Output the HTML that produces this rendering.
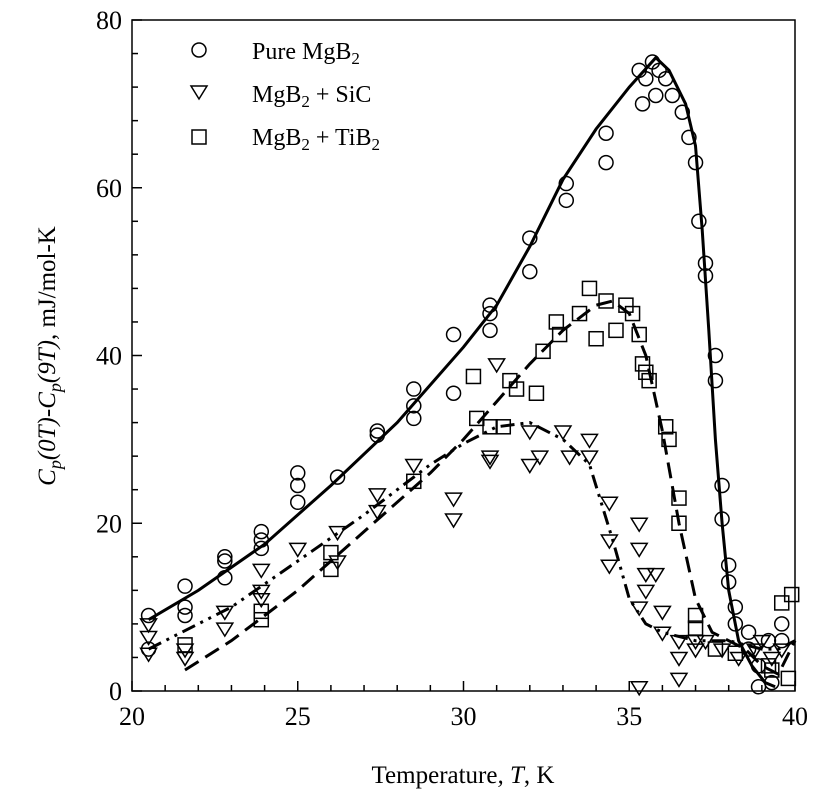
<!DOCTYPE html>
<html><head><meta charset="utf-8"><style>
html,body{margin:0;padding:0;background:#fff;}
svg{display:block;font-family:"Liberation Serif",serif;}
</style></head><body>
<svg id="chart" width="820" height="807" viewBox="0 0 820 807" xmlns="http://www.w3.org/2000/svg">
<g id="axes"></g>
<g id="marks"></g>
<text x="463" y="783" font-size="25" text-anchor="middle">Temperature<tspan font-style="italic">, T</tspan>, K</text>
<text transform="translate(55,356) rotate(-90)" font-size="25" text-anchor="middle"><tspan font-style="italic">C</tspan><tspan font-style="italic" font-size="18" dy="6">p</tspan><tspan font-style="italic" dy="-6">(0T)</tspan>-<tspan font-style="italic">C</tspan><tspan font-style="italic" font-size="18" dy="6">p</tspan><tspan font-style="italic" dy="-6">(9T)</tspan>, mJ/mol-K</text>
<g font-size="24">
<g><circle cx="199" cy="50" r="7" fill="none" stroke="#000" stroke-width="1.5"/><text x="252" y="59">Pure MgB<tspan font-size="17" dy="5">2</tspan></text></g>
<g><path d="M191,86 L207,86 L199,99 Z" fill="none" stroke="#000" stroke-width="1.5"/><text x="252" y="102">MgB<tspan font-size="17" dy="5">2</tspan><tspan dy="-5"> + SiC</tspan></text></g>
<g><rect x="192" y="130" width="14" height="14" fill="none" stroke="#000" stroke-width="1.5"/><text x="252" y="145">MgB<tspan font-size="17" dy="5">2</tspan><tspan dy="-5"> + TiB</tspan><tspan font-size="17" dy="5">2</tspan></text></g>
</g>
</svg>
<script>
const xTicks=[20,25,30,35,40];
const yTicks=[0,20,40,60,80];
const pureT=[20.5,20.5,21.6,21.6,21.6,22.8,22.8,22.8,23.9,23.9,23.9,25,25,25,26.2,27.4,27.4,28.5,28.5,28.5,29.7,29.7,30.8,30.8,30.8,32,32,33.1,33.1,34.3,34.3,35.3,35.4,35.5,35.7,35.8,35.9,36.1,36.3,36.6,36.8,37,37.1,37.3,37.3,37.6,37.6,37.8,37.8,38,38,38.2,38.2,38.6,38.6,38.9,38.9,39.3,39.6,39.6,39.2];
const pureCp=[9,5,12.5,10,9,16,13.5,15.5,19,17,18,26,24.5,22.5,25.5,31,30.5,36,34,32.5,42.5,35.5,46,45,43,54,50,60.5,58.5,66.5,63,74,70,73,75,71,74,73,71,69,66,63,56,51,49.5,40,37,24.5,20.5,15,13,10,8,7,5,3,0.5,1,8,6,6];
const sicT=[20.5,20.5,20.5,21.6,21.6,22.8,22.8,23.9,23.9,23.9,25,26.2,26.2,27.4,27.4,28.5,29.7,29.7,30.8,30.8,31,32,32,32.3,33,33.2,33.8,33.8,34.4,34.4,34.4,35.3,35.3,35.5,35.5,35.3,35.8,36,36,36.5,36.5,36.5,37,37,37.3,37.8,38.3,38.8,39,39.3,39.6,35.3];
const sicCp=[8,6.5,4.5,4,5,9.5,7.5,14.5,12,11,17,19,15.5,23.5,21.5,27,23,20.5,28,27.5,39,31,27,28,31,28,30,28,22.5,18,15,20,17,14,12,10,14,9.5,7,6,1.5,4,5,6,6,5,4,5,6,4,5,0.5];
const tibT=[21.6,23.9,23.9,26,26,28.5,30.3,30.4,30.8,31.2,31.4,31.6,32.2,32.4,32.8,32.9,33.5,33.8,34,34.3,34.6,34.9,35.1,35.3,35.4,35.5,35.6,36.1,36.2,36.5,36.5,37,37,37.6,38.2,39.2,39.6,39.9,39.8,39.3];
const tibCp=[5.5,9.5,8.5,16.5,14.5,25,37.5,32.5,31.5,31.5,37,36,35.5,40.5,44,42.5,45,48,42,46.5,43,46,45,42.5,39,38,37,31.5,30,23,20,9,7.5,5,4.5,3,10.5,11.5,1.5,2.5];
const fitPureT=[20.5,22,24,26,28,30,31,32,33,34,35,35.8,36.2,36.7,37,37.2,37.4,37.6,37.8,38,38.3,38.7,39.1,39.4];
const fitPureCp=[8.5,12,17.5,24.5,32,41,46,53,61,67,72,75.5,74,70,65,55,43,30,20,12,6,3,1,0.5];
const fitTibT=[21.6,23,25,27,29,30,31,32,33,34,34.5,35,35.5,36,36.5,37,37.5,38,38.5,39,39.5,40];
const fitTibCp=[2.5,6,12,19,26,30,34.5,39,43,46,46.5,45,40,31,20,11,7,6,5,3,2,6];
const fitSicT=[20.5,21.5,23,25,27,29,30,31,32,33,33.8,34.5,35,35.5,36,37,38,39,39.5,40];
const fitSicCp=[5,7,10,15.5,21,27,29.5,31.5,32,30,27,18,11,8,7,6,6,5,5,6];

const L=132,R=795,T=20,B=691;
const sx=v=>L+(v-20)/20*(R-L);
const sy=v=>B-v/80*(B-T);
const NS="http://www.w3.org/2000/svg";
function mk(tag,attrs,parent){const e=document.createElementNS(NS,tag);for(const k in attrs)e.setAttribute(k,attrs[k]);parent.appendChild(e);return e;}
const axes=document.getElementById('axes'),marks=document.getElementById('marks');
let fr=mk('rect',{x:L,y:T,width:R-L,height:B-T,fill:'none',stroke:'#000','stroke-width':1.5},axes);


for(let v=20;v<=40;v+=1){const maj=v%5===0;let t=mk('line',{x1:sx(v),x2:sx(v),y1:B,y2:B-(maj?10:6),stroke:'#000','stroke-width':1.5},axes);

}
for(let v=0;v<=80;v+=4){const maj=v%20===0;let t=mk('line',{x1:L,x2:L+(maj?10:6),y1:sy(v),y2:sy(v),stroke:'#000','stroke-width':1.5},axes);

}
xTicks.forEach(v=>{let t=mk('text',{x:sx(v),y:B+34,'font-size':26,'text-anchor':'middle'},axes);t.textContent=v;

});
yTicks.forEach(v=>{let t=mk('text',{x:L-10,y:sy(v)+9,'font-size':26,'text-anchor':'end'},axes);t.textContent=v;

});
function line(xs,ys,dash,name){const d=xs.map((x,i)=>(i?'L':'M')+sx(x).toFixed(1)+','+sy(ys[i]).toFixed(1)).join(' ');
let p=mk('path',{d:d,fill:'none',stroke:'#000','stroke-width':3,'stroke-dasharray':dash},marks);

}
line(fitPureT,fitPureCp,'none','fit-line-pure');
line(fitTibT,fitTibCp,'16 8','fit-line-tib2');
line(fitSicT,fitSicCp,'14 6 3 6 3 6','fit-line-sic');
pureT.forEach((x,i)=>{let c=mk('circle',{cx:sx(x),cy:sy(pureCp[i]),r:7,fill:'none',stroke:'#000','stroke-width':1.5},marks);

});
sicT.forEach((x,i)=>{const X=sx(x),Y=sy(sicCp[i]);let p=mk('path',{d:`M${X-8},${Y-5} L${X+8},${Y-5} L${X},${Y+8} Z`,fill:'none',stroke:'#000','stroke-width':1.5},marks);

});
tibT.forEach((x,i)=>{let r=mk('rect',{x:sx(x)-7,y:sy(tibCp[i])-7,width:14,height:14,fill:'none',stroke:'#000','stroke-width':1.5},marks);

});
</script>
</body></html>
